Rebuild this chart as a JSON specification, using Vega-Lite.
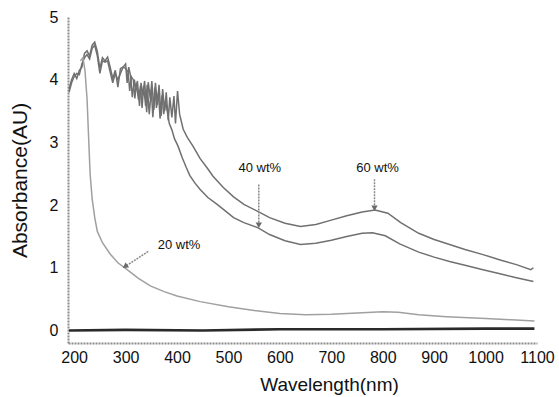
{
  "$schema": "https://vega.github.io/schema/vega-lite/v6.json",
  "width": 469,
  "height": 326,
  "autosize": {"type": "none"},
  "padding": {"left": 68, "top": 17, "right": 22, "bottom": 54},
  "background": "white",
  "config": {
    "view": {"stroke": null},
    "font": "Liberation Sans",
    "axis": {
      "grid": false,
      "ticks": false,
      "domainColor": "#8c8c8c",
      "domainWidth": 2,
      "domainDash": [2, 1],
      "labelColor": "#111",
      "titleColor": "#111",
      "labelFont": "Liberation Sans",
      "titleFont": "Liberation Sans",
      "labelFontSize": 16,
      "titleFontWeight": "normal",
      "labelFlush": false
    }
  },
  "datasets": {
    "curves": [
      {"series": "60 wt%", "wl": 190, "abs": 3.85},
      {"series": "60 wt%", "wl": 195, "abs": 4.0},
      {"series": "60 wt%", "wl": 200, "abs": 4.1},
      {"series": "60 wt%", "wl": 205, "abs": 4.02},
      {"series": "60 wt%", "wl": 210, "abs": 4.15},
      {"series": "60 wt%", "wl": 215, "abs": 4.2},
      {"series": "60 wt%", "wl": 220, "abs": 4.42},
      {"series": "60 wt%", "wl": 225, "abs": 4.46},
      {"series": "60 wt%", "wl": 230, "abs": 4.38},
      {"series": "60 wt%", "wl": 235, "abs": 4.55},
      {"series": "60 wt%", "wl": 240, "abs": 4.6},
      {"series": "60 wt%", "wl": 245, "abs": 4.45},
      {"series": "60 wt%", "wl": 250, "abs": 4.18},
      {"series": "60 wt%", "wl": 255, "abs": 4.35},
      {"series": "60 wt%", "wl": 260, "abs": 4.3},
      {"series": "60 wt%", "wl": 265, "abs": 4.36},
      {"series": "60 wt%", "wl": 270, "abs": 4.2},
      {"series": "60 wt%", "wl": 275, "abs": 4.02},
      {"series": "60 wt%", "wl": 280, "abs": 4.15},
      {"series": "60 wt%", "wl": 285, "abs": 3.88},
      {"series": "60 wt%", "wl": 290, "abs": 4.18},
      {"series": "60 wt%", "wl": 295, "abs": 4.2},
      {"series": "60 wt%", "wl": 300, "abs": 4.25},
      {"series": "60 wt%", "wl": 303, "abs": 3.95},
      {"series": "60 wt%", "wl": 306, "abs": 4.2},
      {"series": "60 wt%", "wl": 310, "abs": 4.05},
      {"series": "60 wt%", "wl": 313, "abs": 3.72},
      {"series": "60 wt%", "wl": 317, "abs": 4.0},
      {"series": "60 wt%", "wl": 320, "abs": 3.85},
      {"series": "60 wt%", "wl": 323, "abs": 3.98},
      {"series": "60 wt%", "wl": 327, "abs": 3.58},
      {"series": "60 wt%", "wl": 330, "abs": 3.95},
      {"series": "60 wt%", "wl": 333, "abs": 3.75},
      {"series": "60 wt%", "wl": 337, "abs": 3.98},
      {"series": "60 wt%", "wl": 341, "abs": 3.48},
      {"series": "60 wt%", "wl": 344, "abs": 3.96},
      {"series": "60 wt%", "wl": 348, "abs": 3.7},
      {"series": "60 wt%", "wl": 351, "abs": 3.98},
      {"series": "60 wt%", "wl": 355, "abs": 3.52},
      {"series": "60 wt%", "wl": 358, "abs": 3.95},
      {"series": "60 wt%", "wl": 362, "abs": 3.6},
      {"series": "60 wt%", "wl": 365, "abs": 3.92},
      {"series": "60 wt%", "wl": 369, "abs": 3.42},
      {"series": "60 wt%", "wl": 372, "abs": 3.85},
      {"series": "60 wt%", "wl": 376, "abs": 3.5},
      {"series": "60 wt%", "wl": 379, "abs": 3.8},
      {"series": "60 wt%", "wl": 383, "abs": 3.35},
      {"series": "60 wt%", "wl": 386, "abs": 3.72},
      {"series": "60 wt%", "wl": 390, "abs": 3.4},
      {"series": "60 wt%", "wl": 394, "abs": 3.74},
      {"series": "60 wt%", "wl": 397, "abs": 3.3},
      {"series": "60 wt%", "wl": 401, "abs": 3.82},
      {"series": "60 wt%", "wl": 405, "abs": 3.45},
      {"series": "60 wt%", "wl": 412, "abs": 3.21},
      {"series": "60 wt%", "wl": 420, "abs": 3.08},
      {"series": "60 wt%", "wl": 431, "abs": 2.94},
      {"series": "60 wt%", "wl": 445, "abs": 2.74},
      {"series": "60 wt%", "wl": 458, "abs": 2.6},
      {"series": "60 wt%", "wl": 470, "abs": 2.46},
      {"series": "60 wt%", "wl": 490, "abs": 2.28},
      {"series": "60 wt%", "wl": 510, "abs": 2.13},
      {"series": "60 wt%", "wl": 530, "abs": 2.01},
      {"series": "60 wt%", "wl": 557, "abs": 1.9},
      {"series": "60 wt%", "wl": 580, "abs": 1.8},
      {"series": "60 wt%", "wl": 610, "abs": 1.71},
      {"series": "60 wt%", "wl": 640, "abs": 1.66},
      {"series": "60 wt%", "wl": 670, "abs": 1.69},
      {"series": "60 wt%", "wl": 700, "abs": 1.76},
      {"series": "60 wt%", "wl": 730, "abs": 1.83},
      {"series": "60 wt%", "wl": 760, "abs": 1.89},
      {"series": "60 wt%", "wl": 785, "abs": 1.92},
      {"series": "60 wt%", "wl": 810, "abs": 1.87},
      {"series": "60 wt%", "wl": 835, "abs": 1.72},
      {"series": "60 wt%", "wl": 870, "abs": 1.55},
      {"series": "60 wt%", "wl": 900, "abs": 1.45},
      {"series": "60 wt%", "wl": 930, "abs": 1.37},
      {"series": "60 wt%", "wl": 960, "abs": 1.29},
      {"series": "60 wt%", "wl": 995, "abs": 1.21},
      {"series": "60 wt%", "wl": 1030, "abs": 1.12},
      {"series": "60 wt%", "wl": 1060, "abs": 1.05},
      {"series": "60 wt%", "wl": 1088, "abs": 0.97},
      {"series": "60 wt%", "wl": 1093, "abs": 1.0},
      {"series": "40 wt%", "wl": 190, "abs": 3.8},
      {"series": "40 wt%", "wl": 195, "abs": 3.95},
      {"series": "40 wt%", "wl": 200, "abs": 4.05},
      {"series": "40 wt%", "wl": 205, "abs": 4.1},
      {"series": "40 wt%", "wl": 210, "abs": 4.08},
      {"series": "40 wt%", "wl": 215, "abs": 4.25},
      {"series": "40 wt%", "wl": 220, "abs": 4.35},
      {"series": "40 wt%", "wl": 225, "abs": 4.4},
      {"series": "40 wt%", "wl": 230, "abs": 4.33},
      {"series": "40 wt%", "wl": 235, "abs": 4.5},
      {"series": "40 wt%", "wl": 240, "abs": 4.55},
      {"series": "40 wt%", "wl": 245, "abs": 4.38},
      {"series": "40 wt%", "wl": 250, "abs": 4.1},
      {"series": "40 wt%", "wl": 255, "abs": 4.3},
      {"series": "40 wt%", "wl": 260, "abs": 4.28},
      {"series": "40 wt%", "wl": 265, "abs": 4.3},
      {"series": "40 wt%", "wl": 270, "abs": 4.12},
      {"series": "40 wt%", "wl": 275, "abs": 3.95},
      {"series": "40 wt%", "wl": 280, "abs": 4.1},
      {"series": "40 wt%", "wl": 285, "abs": 4.0},
      {"series": "40 wt%", "wl": 290, "abs": 4.1},
      {"series": "40 wt%", "wl": 295, "abs": 4.2},
      {"series": "40 wt%", "wl": 300, "abs": 4.18},
      {"series": "40 wt%", "wl": 305, "abs": 4.12},
      {"series": "40 wt%", "wl": 308, "abs": 3.82},
      {"series": "40 wt%", "wl": 311, "abs": 4.05},
      {"series": "40 wt%", "wl": 315, "abs": 4.0},
      {"series": "40 wt%", "wl": 318, "abs": 3.7},
      {"series": "40 wt%", "wl": 321, "abs": 3.95},
      {"series": "40 wt%", "wl": 325, "abs": 3.68},
      {"series": "40 wt%", "wl": 329, "abs": 3.9},
      {"series": "40 wt%", "wl": 332, "abs": 3.55},
      {"series": "40 wt%", "wl": 335, "abs": 3.9},
      {"series": "40 wt%", "wl": 339, "abs": 3.58},
      {"series": "40 wt%", "wl": 342, "abs": 3.92},
      {"series": "40 wt%", "wl": 346, "abs": 3.45},
      {"series": "40 wt%", "wl": 350, "abs": 3.85},
      {"series": "40 wt%", "wl": 353, "abs": 3.4},
      {"series": "40 wt%", "wl": 357, "abs": 3.88},
      {"series": "40 wt%", "wl": 360, "abs": 3.55},
      {"series": "40 wt%", "wl": 364, "abs": 3.8},
      {"series": "40 wt%", "wl": 367, "abs": 3.38},
      {"series": "40 wt%", "wl": 371, "abs": 3.75},
      {"series": "40 wt%", "wl": 374, "abs": 3.45},
      {"series": "40 wt%", "wl": 378, "abs": 3.65},
      {"series": "40 wt%", "wl": 381, "abs": 3.5},
      {"series": "40 wt%", "wl": 385, "abs": 3.3},
      {"series": "40 wt%", "wl": 390, "abs": 3.2},
      {"series": "40 wt%", "wl": 395, "abs": 3.06},
      {"series": "40 wt%", "wl": 402, "abs": 2.94},
      {"series": "40 wt%", "wl": 410, "abs": 2.76},
      {"series": "40 wt%", "wl": 418, "abs": 2.6},
      {"series": "40 wt%", "wl": 425, "abs": 2.47},
      {"series": "40 wt%", "wl": 435, "abs": 2.35},
      {"series": "40 wt%", "wl": 445, "abs": 2.25},
      {"series": "40 wt%", "wl": 460, "abs": 2.12},
      {"series": "40 wt%", "wl": 478, "abs": 2.01},
      {"series": "40 wt%", "wl": 495, "abs": 1.9},
      {"series": "40 wt%", "wl": 510, "abs": 1.8},
      {"series": "40 wt%", "wl": 530, "abs": 1.72},
      {"series": "40 wt%", "wl": 557, "abs": 1.64},
      {"series": "40 wt%", "wl": 580, "abs": 1.53},
      {"series": "40 wt%", "wl": 610, "abs": 1.43},
      {"series": "40 wt%", "wl": 640, "abs": 1.37},
      {"series": "40 wt%", "wl": 670, "abs": 1.39},
      {"series": "40 wt%", "wl": 700, "abs": 1.44},
      {"series": "40 wt%", "wl": 730, "abs": 1.5},
      {"series": "40 wt%", "wl": 760, "abs": 1.55},
      {"series": "40 wt%", "wl": 780, "abs": 1.56},
      {"series": "40 wt%", "wl": 805, "abs": 1.51},
      {"series": "40 wt%", "wl": 833, "abs": 1.38},
      {"series": "40 wt%", "wl": 870, "abs": 1.25},
      {"series": "40 wt%", "wl": 900, "abs": 1.17},
      {"series": "40 wt%", "wl": 930, "abs": 1.1},
      {"series": "40 wt%", "wl": 960, "abs": 1.04},
      {"series": "40 wt%", "wl": 995, "abs": 0.97},
      {"series": "40 wt%", "wl": 1030, "abs": 0.9},
      {"series": "40 wt%", "wl": 1060, "abs": 0.84},
      {"series": "40 wt%", "wl": 1093, "abs": 0.78},
      {"series": "20 wt%", "wl": 212, "abs": 4.3},
      {"series": "20 wt%", "wl": 217, "abs": 4.35},
      {"series": "20 wt%", "wl": 221, "abs": 4.15},
      {"series": "20 wt%", "wl": 225, "abs": 3.7},
      {"series": "20 wt%", "wl": 228, "abs": 3.1},
      {"series": "20 wt%", "wl": 231, "abs": 2.5},
      {"series": "20 wt%", "wl": 235, "abs": 2.1},
      {"series": "20 wt%", "wl": 240, "abs": 1.8},
      {"series": "20 wt%", "wl": 245, "abs": 1.58},
      {"series": "20 wt%", "wl": 255, "abs": 1.4},
      {"series": "20 wt%", "wl": 270, "abs": 1.22},
      {"series": "20 wt%", "wl": 285, "abs": 1.08},
      {"series": "20 wt%", "wl": 303, "abs": 0.97},
      {"series": "20 wt%", "wl": 325, "abs": 0.83},
      {"series": "20 wt%", "wl": 348, "abs": 0.71},
      {"series": "20 wt%", "wl": 375, "abs": 0.62},
      {"series": "20 wt%", "wl": 400, "abs": 0.55},
      {"series": "20 wt%", "wl": 445, "abs": 0.46},
      {"series": "20 wt%", "wl": 500, "abs": 0.38},
      {"series": "20 wt%", "wl": 550, "abs": 0.32},
      {"series": "20 wt%", "wl": 600, "abs": 0.27},
      {"series": "20 wt%", "wl": 650, "abs": 0.25},
      {"series": "20 wt%", "wl": 700, "abs": 0.26},
      {"series": "20 wt%", "wl": 750, "abs": 0.28},
      {"series": "20 wt%", "wl": 800, "abs": 0.3},
      {"series": "20 wt%", "wl": 830, "abs": 0.29},
      {"series": "20 wt%", "wl": 870, "abs": 0.25},
      {"series": "20 wt%", "wl": 924, "abs": 0.22},
      {"series": "20 wt%", "wl": 1000, "abs": 0.19},
      {"series": "20 wt%", "wl": 1050, "abs": 0.17},
      {"series": "20 wt%", "wl": 1095, "abs": 0.15}
    ],
    "baseline": [
      {"wl": 190, "abs": 0.0},
      {"wl": 300, "abs": 0.01},
      {"wl": 450, "abs": 0.0},
      {"wl": 600, "abs": 0.02},
      {"wl": 800, "abs": 0.02},
      {"wl": 1000, "abs": 0.03},
      {"wl": 1095, "abs": 0.03}
    ],
    "arrows": [
      {"label": "40 wt%", "x1": 559, "y1": 2.33, "x2": 559, "y2": 1.68, "angle": 0},
      {"label": "60 wt%", "x1": 784, "y1": 2.41, "x2": 784, "y2": 1.95, "angle": 0},
      {"label": "20 wt%", "x1": 344, "y1": 1.26, "x2": 299, "y2": 1.02, "angle": 56}
    ],
    "labels": [
      {"label": "40 wt%", "wl": 561, "abs": 2.59},
      {"label": "60 wt%", "wl": 790, "abs": 2.59},
      {"label": "20 wt%", "wl": 404, "abs": 1.37}
    ]
  },
  "layer": [
    {
      "data": {"name": "curves"},
      "mark": {"type": "line", "strokeWidth": 1.5, "clip": true},
      "encoding": {
        "x": {
          "field": "wl", "type": "quantitative",
          "scale": {"domain": [188, 1100], "nice": false, "zero": false},
          "axis": {
            "title": "Wavelength(nm)",
            "format": "d",
            "values": [200, 300, 400, 500, 600, 700, 800, 900, 1000, 1100],
            "labelPadding": 6,
            "titleFontSize": 19,
            "titleBaseline": "alphabetic",
            "titleAnchor": "start",
            "titleAlign": "center",
            "titleX": 261,
            "titleY": 47
          }
        },
        "y": {
          "field": "abs", "type": "quantitative",
          "scale": {"domain": [-0.2, 5], "nice": false, "zero": false},
          "axis": {
            "title": "Absorbance(AU)",
            "format": "d",
            "values": [0, 1, 2, 3, 4, 5],
            "labelPadding": 10,
            "titleFontSize": 21,
            "titleBaseline": "alphabetic",
            "titleX": -42,
            "titleY": 163
          }
        },
        "color": {
          "field": "series", "type": "nominal",
          "scale": {"domain": ["60 wt%", "40 wt%", "20 wt%"], "range": ["#707070", "#707070", "#a0a0a0"]},
          "legend": null
        },
        "detail": {"field": "series"}
      }
    },
    {
      "data": {"name": "baseline"},
      "mark": {"type": "line", "strokeWidth": 2.6, "color": "#2a2a2a"},
      "encoding": {
        "x": {"field": "wl", "type": "quantitative"},
        "y": {"field": "abs", "type": "quantitative"}
      }
    },
    {
      "data": {"name": "arrows"},
      "mark": {"type": "rule", "strokeWidth": 1.5, "color": "#8a8a8a", "strokeDash": [2, 1]},
      "encoding": {
        "x": {"field": "x1", "type": "quantitative"},
        "y": {"field": "y1", "type": "quantitative"},
        "x2": {"field": "x2"},
        "y2": {"field": "y2"}
      }
    },
    {
      "data": {"name": "arrows"},
      "mark": {"type": "point", "shape": "triangle-down", "filled": true, "size": 40, "color": "#6a6a6a", "opacity": 1},
      "encoding": {
        "x": {"field": "x2", "type": "quantitative"},
        "y": {"field": "y2", "type": "quantitative"},
        "angle": {"field": "angle", "type": "quantitative", "scale": null}
      }
    },
    {
      "data": {"name": "labels"},
      "mark": {"type": "text", "fontSize": 13, "font": "Liberation Sans", "color": "#111", "align": "center", "baseline": "middle"},
      "encoding": {
        "x": {"field": "wl", "type": "quantitative"},
        "y": {"field": "abs", "type": "quantitative"},
        "text": {"field": "label"}
      }
    }
  ]
}
